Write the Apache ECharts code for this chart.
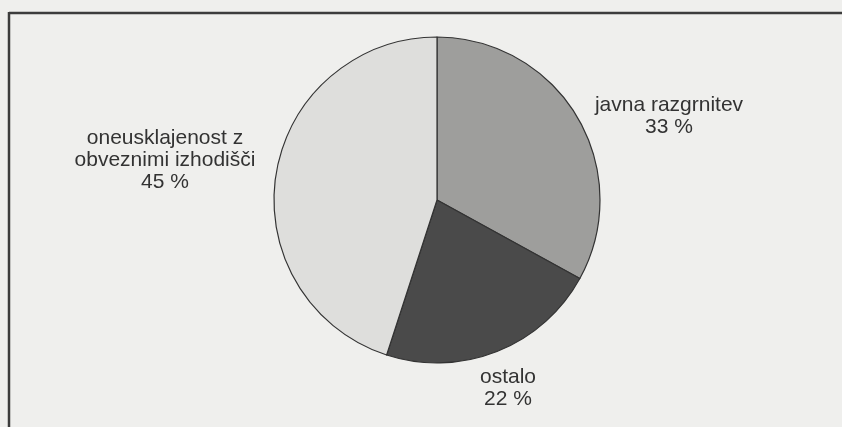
<!DOCTYPE html>
<html>
<head>
<meta charset="utf-8">
<script src="https://cdn.jsdelivr.net/npm/echarts@6/dist/echarts.min.js"></script>
<style>
html,body{margin:0;padding:0;background:#efefed;}
#chart{width:842px;height:427px;}
</style>
</head>
<body>
<div id="chart"></div>
<script>
// podatki
var names = ['javna razgrnitev', 'ostalo', 'oneusklajenost z\nobveznimi izhodišči'];
var values = [33, 22, 45];
var colors = ['#9e9e9c', '#4a4a4a', '#dededc'];
// kje stojijo napisi (sredina bloka besedila)
var labelX = [669, 508, 165];
var labelY = [116, 388, 160];

var myChart = echarts.init(document.getElementById('chart'));
var data = [];
for (var i = 0; i < values.length; i++) {
	data.push({value: values[i], name: names[i], itemStyle: {color: colors[i]}});
}
var option = {
	backgroundColor: '#efefed',
	animation: false,
	graphic: [
		{type: 'line', shape: {x1: 9, y1: 13, x2: 842, y2: 13}, style: {stroke: '#3c3c3c', lineWidth: 2.5}},
		{type: 'line', shape: {x1: 9, y1: 12, x2: 9, y2: 427}, style: {stroke: '#3c3c3c', lineWidth: 2.5}}
	],
	series: [{
		type: 'pie',
		center: [437, 200],
		radius: [0, 163],
		startAngle: 90,
		clockwise: true,
		data: data,
		itemStyle: {borderColor: '#333', borderWidth: 1.2},
		label: {
			show: true,
			position: 'outside',
			formatter: '{b}\n{c} %',
			color: '#333',
			fontFamily: 'Liberation Sans, Arial, sans-serif',
			fontSize: 21,
			lineHeight: 22,
			align: 'center'
		},
		labelLine: {show: false},
		labelLayout: function (params) {
			return {
				x: labelX[params.dataIndex],
				y: labelY[params.dataIndex],
				align: 'center',
				verticalAlign: 'middle'
			};
		},
		emphasis: {disabled: true}
	}]
};
myChart.setOption(option);
</script>
</body>
</html>
